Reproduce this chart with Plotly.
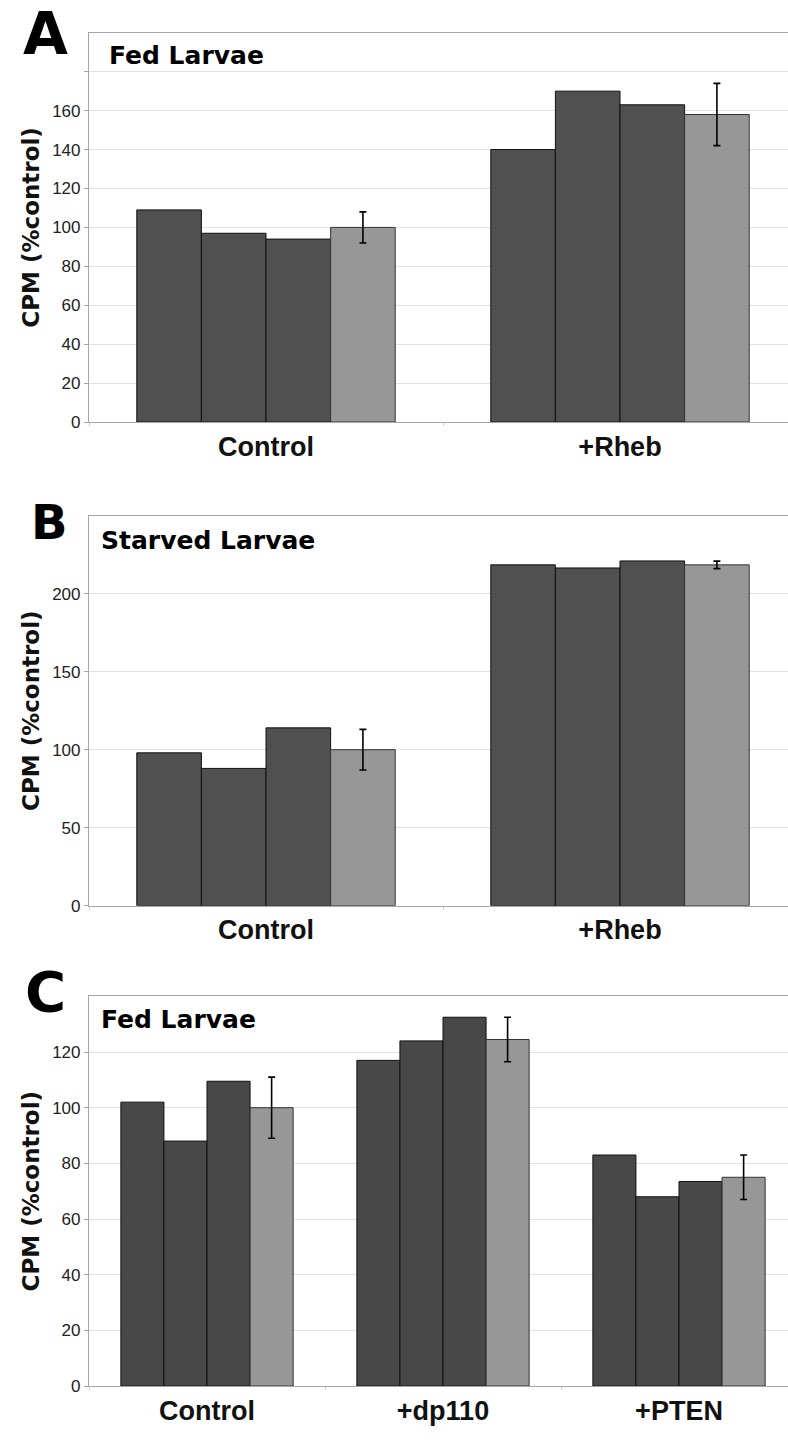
import plotly.graph_objects as go

# ---------------- data ----------------
a_categories = ["Control", "+Rheb"]
a_rep1 = [109, 140]
a_rep2 = [97, 170]
a_rep3 = [94, 163]
a_mean = [100, 158]
a_err = [8, 16]

b_categories = ["Control", "+Rheb"]
b_rep1 = [98, 218.5]
b_rep2 = [88, 216.5]
b_rep3 = [114, 221]
b_mean = [100, 218.5]
b_err = [13, 2.4]

c_categories = ["Control", "+dp110", "+PTEN"]
c_rep1 = [102, 117, 83]
c_rep2 = [88, 124, 68]
c_rep3 = [109.5, 132.5, 73.5]
c_mean = [100, 124.5, 75]
c_err = [11, 8, 8]

a_yticks = [0, 20, 40, 60, 80, 100, 120, 140, 160]
b_yticks = [0, 50, 100, 150, 200]
c_yticks = [0, 20, 40, 60, 80, 100, 120]

# ---------------- style ----------------
W, H = 788, 1445
DARK_AB = "#505050"
DARK_C = "#484848"
LIGHT = "#979797"
GRID = "#e2e2e2"
FRAME = "#a6a6a6"
FONT = "DejaVu Sans"
FONT_CAT = "Liberation Sans"

fig = go.Figure()


def add_panel(idx, cats, reps, mean, err, dark):
    xa = "x" if idx == 1 else f"x{idx}"
    ya = "y" if idx == 1 else f"y{idx}"
    for r in reps:
        fig.add_trace(go.Bar(
            x=cats, y=r, xaxis=xa, yaxis=ya,
            marker=dict(color=dark, line=dict(color="#111111", width=1)),
            showlegend=False,
        ))
    fig.add_trace(go.Bar(
        x=cats, y=mean, xaxis=xa, yaxis=ya,
        marker=dict(color=LIGHT, line=dict(color="#333333", width=1)),
        error_y=dict(type="data", array=err, color="#000000", thickness=1.6, width=3.5),
        showlegend=False,
    ))


add_panel(1, a_categories, [a_rep1, a_rep2, a_rep3], a_mean, a_err, DARK_AB)
add_panel(2, b_categories, [b_rep1, b_rep2, b_rep3], b_mean, b_err, DARK_AB)
add_panel(3, c_categories, [c_rep1, c_rep2, c_rep3], c_mean, c_err, DARK_C)

x_left = 89 / W


def ydom(top_px, bottom_px):
    return [1 - bottom_px / H, 1 - top_px / H]


def xaxis_cfg(cat_px, anchor):
    return dict(
        domain=[x_left, 1.0],
        anchor=anchor,
        type="category",
        range=[-0.5, -0.5 + (W - 89) / cat_px],
        showline=True, mirror=True, linecolor=FRAME, linewidth=1.2,
        showgrid=False, zeroline=False,
        ticks="outside", tickson="boundaries", ticklen=3, tickcolor="#d0d0d0",
        tickfont=dict(family=FONT_CAT, size=27, color="#111111", weight="bold"),
        fixedrange=True,
    )


def yaxis_cfg(dom, rng, tickvals, ticktext, anchor):
    return dict(
        domain=dom,
        anchor=anchor,
        range=rng,
        tickmode="array",
        tickvals=tickvals,
        ticktext=ticktext,
        showline=True, linecolor=FRAME, linewidth=1.2,
        showgrid=True, gridcolor=GRID, gridwidth=1,
        zeroline=False,
        ticks="outside", ticklen=4, tickcolor=FRAME,
        tickfont=dict(family="Liberation Sans", size=17, color="#222222"),
        title=dict(text="CPM (%control)", standoff=6,
                   font=dict(family=FONT, size=23, color="#111111", weight="bold")),
        fixedrange=True,
    )


# panel A also draws a gridline at 180, without a label
a_tickvals = a_yticks + [180]
a_ticktext = [str(v) for v in a_yticks] + [""]

fig.update_layout(
    width=W, height=H,
    margin=dict(l=0, r=0, t=0, b=0),
    paper_bgcolor="white", plot_bgcolor="white",
    barmode="group", bargap=0.27, bargroupgap=0,
    showlegend=False,
    xaxis=xaxis_cfg(354, "y"),
    yaxis=yaxis_cfg(ydom(33, 425), [0, 200], a_tickvals, a_ticktext, "x"),
    xaxis2=xaxis_cfg(354, "y2"),
    yaxis2=yaxis_cfg(ydom(519.3, 912), [0, 250], b_yticks, [str(v) for v in b_yticks], "x2"),
    xaxis3=xaxis_cfg(236, "y3"),
    yaxis3=yaxis_cfg(ydom(1003.3, 1395.7), [0, 140], c_yticks, [str(v) for v in c_yticks], "x3"),
)

annotations = []
panel_letters = [("A", 45.5, 34.5, 58), ("B", 49, 525.5, 48), ("C", 45, 998, 56)]
for letter, px, py, size in panel_letters:
    annotations.append(dict(
        text=letter, xref="paper", yref="paper", x=px / W, y=1 - py / H,
        xanchor="center", yanchor="middle", showarrow=False,
        font=dict(family=FONT, size=size, color="#000000", weight="bold"),
    ))

panel_titles = [("Fed Larvae", 107, 55.5), ("Starved Larvae", 99, 544), ("Fed Larvae", 99, 1027)]
for text, px, py in panel_titles:
    annotations.append(dict(
        text=text, xref="paper", yref="paper", x=px / W, y=1 - py / H,
        xanchor="left", yanchor="middle", showarrow=False,
        font=dict(family=FONT, size=25, color="#000000", weight="bold"),
    ))

fig.update_layout(annotations=annotations)

fig.write_html("out.html")
